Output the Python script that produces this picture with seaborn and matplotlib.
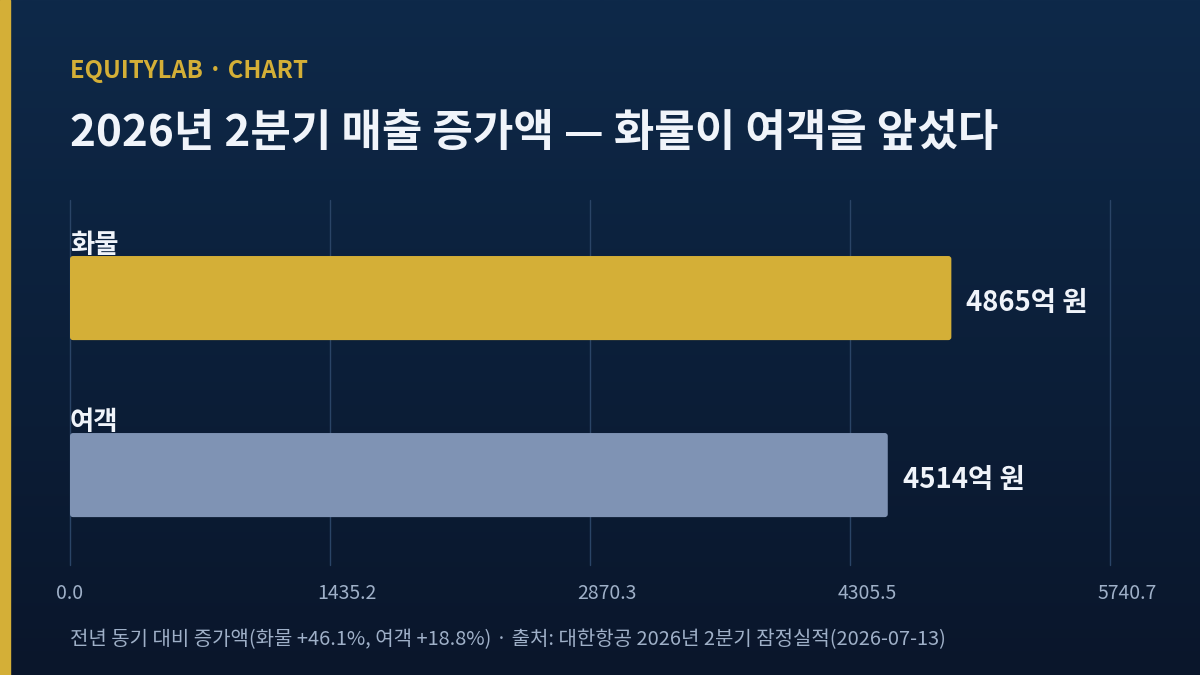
import numpy as np
import pandas as pd
import seaborn as sns
import matplotlib.pyplot as plt
import matplotlib.transforms as mtransforms
from matplotlib.patches import FancyBboxPatch, Rectangle

categories = ["화물", "여객"]
values = [4865, 4514]
value_labels = ["4865억 원", "4514억 원"]
tick_values = [0.0, 1435.2, 2870.3, 4305.5, 5740.7]
bar_colors = ["#d4af37", "#7f93b4"]

title = "2026년 2분기 매출 증가액 — 화물이 여객을 앞섰다"
kicker = "EQUITYLAB · CHART"
footer = "전년 동기 대비 증가액(화물 +46.1%, 여객 +18.8%) · 출처: 대한항공 2026년 2분기 잠정실적(2026-07-13)"

sns.set_theme(style="white")
plt.rcParams["font.family"] = ["Noto Sans CJK KR", "DejaVu Sans"]

df = pd.DataFrame({"구분": categories, "증가액": values})

fig = plt.figure(figsize=(12, 6.75), dpi=100)

# 배경 그라데이션
bg = fig.add_axes([0, 0, 1, 1], zorder=-10)
grad = np.linspace(0, 1, 256).reshape(-1, 1)
top = np.array([14, 41, 73]) / 255
bot = np.array([10, 22, 43]) / 255
img = top[None, None, :] * (1 - grad[:, :, None]) + bot[None, None, :] * grad[:, :, None]
bg.imshow(img, aspect="auto", extent=[0, 1, 0, 1])
bg.add_patch(Rectangle((0, 0), 10 / 1200, 1, color="#d4af37"))
bg.set_xlim(0, 1)
bg.set_ylim(0, 1)
bg.axis("off")

ax = fig.add_axes([70 / 1200, 1 - 565 / 675, 1040 / 1200, 365 / 675])
ax.set_facecolor("none")
sns.barplot(data=df, y="구분", x="증가액", hue="구분", palette=bar_colors,
            orient="h", width=0.475, legend=False, ax=ax, saturation=1)

ax.set_xlim(0, tick_values[-1])
ax.set_ylim(1.508, -0.554)

# 막대 모서리 둥글게
xpp = tick_values[-1] / 1040
ypp = (1.508 + 0.554) / 365
for p in list(ax.patches):
    x0, y0 = p.get_x(), p.get_y()
    w, h = p.get_width(), p.get_height()
    fc = p.get_facecolor()
    p.remove()
    ax.add_patch(FancyBboxPatch((x0, y0), w, h,
                                boxstyle=f"round,pad=0,rounding_size={3 * xpp}",
                                mutation_aspect=ypp / xpp, fc=fc, ec="none", zorder=3))

for i, (v, lab, cat) in enumerate(zip(values, value_labels, categories)):
    ax.text(v + 15 * xpp, i + 5 * ypp, lab, va="center", ha="left", fontsize=19.8,
            fontweight="bold", color="#f0f4fa", zorder=4)
    ax.text(0, i - 0.475 / 2 - 3 * ypp, cat, va="baseline", ha="left", fontsize=19,
            fontweight="bold", color="#f0f4fa", zorder=2)

ax.set_xticks(tick_values)
ax.set_xticklabels([f"{t:.1f}" for t in tick_values], color="#9fb0c8", fontsize=14)
ax.tick_params(axis="x", length=0, pad=13)
for k, lbl in enumerate(ax.get_xticklabels()):
    if k > 0:
        lbl.set_transform(lbl.get_transform() +
                          mtransforms.ScaledTranslation(17 / 100, 0, fig.dpi_scale_trans))
ax.set_yticks([])
ax.set_xlabel("")
ax.set_ylabel("")
ax.grid(axis="x", color="#2a4466", linewidth=1)
for gl in ax.get_xgridlines():
    gl.set_clip_on(False)
ax.set_axisbelow(True)
for s in ax.spines.values():
    s.set_visible(False)

fig.text(70 / 1200, 1 - 71 / 675, kicker, color="#d4af37", fontsize=17.2,
         fontweight="bold", va="center", ha="left")
fig.text(70 / 1200, 1 - 133 / 675, title, color="#f0f4fa", fontsize=31.7,
         fontweight="bold", va="center", ha="left")
fig.text(70 / 1200, 1 - 640 / 675, footer, color="#9fb0c8", fontsize=14.4,
         va="center", ha="left")

fig.savefig("out.png", dpi=100)
